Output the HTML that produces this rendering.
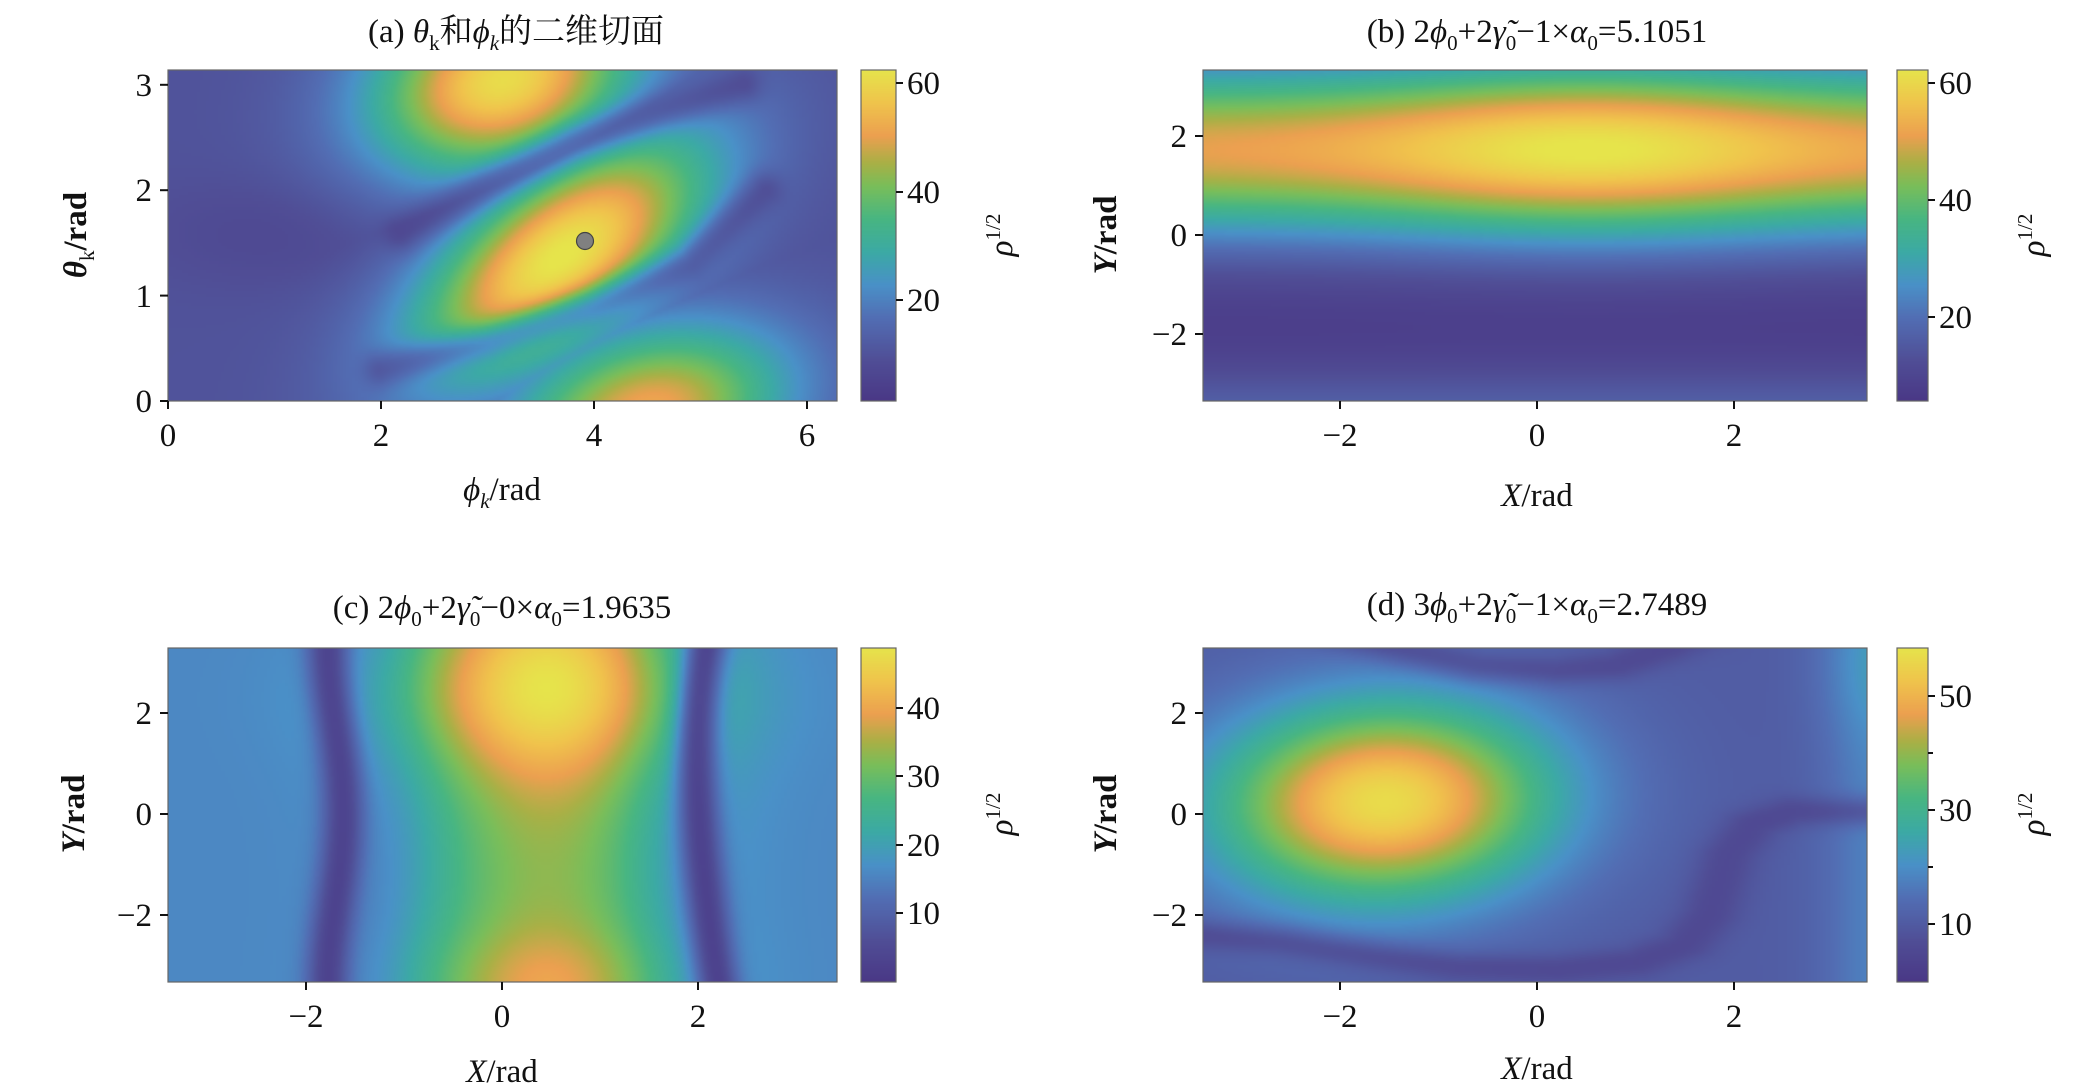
<!DOCTYPE html>
<html><head><meta charset="utf-8">
<style>
html,body{margin:0;padding:0;background:#fff;}
#wrap{position:relative;width:2079px;height:1089px;overflow:hidden;}
canvas{position:absolute;}
svg{position:absolute;left:0;top:0;}
text{font-family:"Liberation Serif","Noto Serif CJK SC","Noto Sans CJK SC",serif;fill:#111;}
</style></head><body>
<div id="wrap">
<canvas id="ca" width="220" height="110" style="left:168px;top:70px;width:669px;height:331px"></canvas>
<canvas id="cb" width="220" height="110" style="left:1203px;top:70px;width:664px;height:331px"></canvas>
<canvas id="cc" width="220" height="110" style="left:168px;top:648px;width:669px;height:334px"></canvas>
<canvas id="cd" width="220" height="110" style="left:1203px;top:648px;width:664px;height:334px"></canvas>
<canvas id="ka" width="1" height="200" style="left:861px;top:70px;width:35px;height:331px"></canvas>
<canvas id="kb" width="1" height="200" style="left:1897px;top:70px;width:31px;height:331px"></canvas>
<canvas id="kc" width="1" height="200" style="left:861px;top:648px;width:35px;height:334px"></canvas>
<canvas id="kd" width="1" height="200" style="left:1897px;top:648px;width:31px;height:334px"></canvas>
<svg width="2079" height="1089" xmlns="http://www.w3.org/2000/svg" font-size="33">
<g fill="none" stroke="#666" stroke-width="1.2">
<rect x="168" y="70" width="669" height="331"/><rect x="1203" y="70" width="664" height="331"/>
<rect x="168" y="648" width="669" height="334"/><rect x="1203" y="648" width="664" height="334"/>
<rect x="861" y="70" width="35" height="331"/><rect x="1897" y="70" width="31" height="331"/>
<rect x="861" y="648" width="35" height="334"/><rect x="1897" y="648" width="31" height="334"/>
</g>
<circle cx="585" cy="241" r="8.5" fill="#808080" stroke="#444" stroke-width="1.2"/>
<g stroke="#111" stroke-width="2">
<line x1="168" y1="401" x2="168" y2="409"/><line x1="381" y1="401" x2="381" y2="409"/><line x1="594" y1="401" x2="594" y2="409"/><line x1="807" y1="401" x2="807" y2="409"/>
<line x1="160" y1="401" x2="168" y2="401"/><line x1="160" y1="295.6" x2="168" y2="295.6"/><line x1="160" y1="190.2" x2="168" y2="190.2"/><line x1="160" y1="84.8" x2="168" y2="84.8"/>
<line x1="1340" y1="401" x2="1340" y2="409"/><line x1="1537" y1="401" x2="1537" y2="409"/><line x1="1734" y1="401" x2="1734" y2="409"/>
<line x1="1195" y1="136" x2="1203" y2="136"/><line x1="1195" y1="235" x2="1203" y2="235"/><line x1="1195" y1="334" x2="1203" y2="334"/>
<line x1="306" y1="982" x2="306" y2="990"/><line x1="502" y1="982" x2="502" y2="990"/><line x1="698" y1="982" x2="698" y2="990"/>
<line x1="160" y1="713" x2="168" y2="713"/><line x1="160" y1="814" x2="168" y2="814"/><line x1="160" y1="915" x2="168" y2="915"/>
<line x1="1340" y1="982" x2="1340" y2="990"/><line x1="1537" y1="982" x2="1537" y2="990"/><line x1="1734" y1="982" x2="1734" y2="990"/>
<line x1="1195" y1="713" x2="1203" y2="713"/><line x1="1195" y1="814" x2="1203" y2="814"/><line x1="1195" y1="915" x2="1203" y2="915"/>
<line x1="896" y1="83" x2="903" y2="83"/><line x1="896" y1="192" x2="903" y2="192"/><line x1="896" y1="300" x2="903" y2="300"/>
<line x1="1928" y1="83" x2="1935" y2="83"/><line x1="1928" y1="200" x2="1935" y2="200"/><line x1="1928" y1="317" x2="1935" y2="317"/>
<line x1="896" y1="708" x2="903" y2="708"/><line x1="896" y1="776" x2="903" y2="776"/><line x1="896" y1="845" x2="903" y2="845"/><line x1="896" y1="913" x2="903" y2="913"/>
<line x1="1928" y1="696" x2="1935" y2="696"/><line x1="1928" y1="753" x2="1933" y2="753"/><line x1="1928" y1="810" x2="1935" y2="810"/><line x1="1928" y1="867" x2="1933" y2="867"/><line x1="1928" y1="924" x2="1935" y2="924"/>
</g>
<g text-anchor="middle">
<text x="168" y="446">0</text><text x="381" y="446">2</text><text x="594" y="446">4</text><text x="807" y="446">6</text>
<text x="1340" y="446">−2</text><text x="1537" y="446">0</text><text x="1734" y="446">2</text>
<text x="306" y="1027">−2</text><text x="502" y="1027">0</text><text x="698" y="1027">2</text>
<text x="1340" y="1027">−2</text><text x="1537" y="1027">0</text><text x="1734" y="1027">2</text>
</g>
<g text-anchor="end">
<text x="152" y="412">0</text><text x="152" y="307">1</text><text x="152" y="201">2</text><text x="152" y="96">3</text>
<text x="1187" y="147">2</text><text x="1187" y="246">0</text><text x="1187" y="345">−2</text>
<text x="152" y="724">2</text><text x="152" y="825">0</text><text x="152" y="926">−2</text>
<text x="1187" y="724">2</text><text x="1187" y="825">0</text><text x="1187" y="926">−2</text>
</g>
<g>
<text x="907" y="94">60</text><text x="907" y="203">40</text><text x="907" y="311">20</text>
<text x="1939" y="94">60</text><text x="1939" y="211">40</text><text x="1939" y="328">20</text>
<text x="907" y="719">40</text><text x="907" y="787">30</text><text x="907" y="856">20</text><text x="907" y="924">10</text>
<text x="1939" y="707">50</text><text x="1939" y="821">30</text><text x="1939" y="935">10</text>
</g>
<g text-anchor="middle">
<text x="516" y="42">(a) <tspan font-style="italic">θ</tspan><tspan font-size="21" dy="8">k</tspan><tspan dy="-8">和</tspan><tspan font-style="italic">ϕ</tspan><tspan font-size="21" font-style="italic" dy="8">k</tspan><tspan dy="-8">的二维切面</tspan></text>
<text x="1537" y="42">(b) 2<tspan font-style="italic">ϕ</tspan><tspan font-size="21" dy="8">0</tspan><tspan dy="-8">+2</tspan><tspan font-style="italic">γ̃</tspan><tspan font-size="21" dy="8">0</tspan><tspan dy="-8">−1×</tspan><tspan font-style="italic">α</tspan><tspan font-size="21" dy="8">0</tspan><tspan dy="-8">=5.1051</tspan></text>
<text x="502" y="618">(c) 2<tspan font-style="italic">ϕ</tspan><tspan font-size="21" dy="8">0</tspan><tspan dy="-8">+2</tspan><tspan font-style="italic">γ̃</tspan><tspan font-size="21" dy="8">0</tspan><tspan dy="-8">−0×</tspan><tspan font-style="italic">α</tspan><tspan font-size="21" dy="8">0</tspan><tspan dy="-8">=1.9635</tspan></text>
<text x="1537" y="615">(d) 3<tspan font-style="italic">ϕ</tspan><tspan font-size="21" dy="8">0</tspan><tspan dy="-8">+2</tspan><tspan font-style="italic">γ̃</tspan><tspan font-size="21" dy="8">0</tspan><tspan dy="-8">−1×</tspan><tspan font-style="italic">α</tspan><tspan font-size="21" dy="8">0</tspan><tspan dy="-8">=2.7489</tspan></text>
<text x="502" y="500"><tspan font-style="italic">ϕ</tspan><tspan font-size="21" font-style="italic" dy="8">k</tspan><tspan dy="-8">/rad</tspan></text>
<text x="1537" y="506"><tspan font-style="italic">X</tspan>/rad</text>
<text x="502" y="1082"><tspan font-style="italic">X</tspan>/rad</text>
<text x="1537" y="1079"><tspan font-style="italic">X</tspan>/rad</text>
</g>
<g text-anchor="middle" font-weight="bold">
<text transform="translate(86,235) rotate(-90)"><tspan font-style="italic">θ</tspan><tspan font-size="21" dy="8" font-weight="normal">k</tspan><tspan dy="-8">/rad</tspan></text>
<text transform="translate(1116,235) rotate(-90)"><tspan font-style="italic">Y</tspan>/rad</text>
<text transform="translate(84,814) rotate(-90)"><tspan font-style="italic">Y</tspan>/rad</text>
<text transform="translate(1116,814) rotate(-90)"><tspan font-style="italic">Y</tspan>/rad</text>
</g>
<g text-anchor="middle">
<text transform="translate(1012,235) rotate(-90)"><tspan font-style="italic">ρ</tspan><tspan font-size="21" dy="-12">1/2</tspan></text>
<text transform="translate(2044,235) rotate(-90)"><tspan font-style="italic">ρ</tspan><tspan font-size="21" dy="-12">1/2</tspan></text>
<text transform="translate(1012,814) rotate(-90)"><tspan font-style="italic">ρ</tspan><tspan font-size="21" dy="-12">1/2</tspan></text>
<text transform="translate(2044,814) rotate(-90)"><tspan font-style="italic">ρ</tspan><tspan font-size="21" dy="-12">1/2</tspan></text>
</g>
</svg>
</div>
<script>
var S=[[0,74,56,134],[0.12,80,78,150],[0.25,82,110,180],[0.35,74,145,200],[0.45,60,170,165],[0.55,72,182,130],[0.65,122,190,90],[0.72,170,176,70],[0.8,236,160,80],[0.9,240,196,76],[1,230,228,75]];
function cm(t){t=Math.max(0,Math.min(1,t));for(var i=1;i<S.length;i++){if(t<=S[i][0]){var a=S[i-1],b=S[i],f=(t-a[0])/(b[0]-a[0]);return [a[1]+f*(b[1]-a[1]),a[2]+f*(b[2]-a[2]),a[3]+f*(b[3]-a[3])];}}return S[S.length-1].slice(1);}
function g(x,y,cx,cy,sx,sy,ang){var c=Math.cos(ang),s=Math.sin(ang),dx=x-cx,dy=y-cy,u=dx*c+dy*s,v=-dx*s+dy*c;return Math.exp(-0.5*(u*u/(sx*sx)+v*v/(sy*sy)));}
function segd(px,py,pts){var m=1e9;for(var i=0;i<pts.length-1;i++){var ax=pts[i][0],ay=pts[i][1],bx=pts[i+1][0],by=pts[i+1][1],dx=bx-ax,dy=by-ay,t=((px-ax)*dx+(py-ay)*dy)/(dx*dx+dy*dy);t=Math.max(0,Math.min(1,t));var ex=ax+t*dx-px,ey=ay+t*dy-py,d=Math.sqrt(ex*ex+ey*ey);if(d<m)m=d;}return m;}
function draw(id,x0,x1,y0,y1,vmin,vmax,f){var c=document.getElementById(id),ctx=c.getContext('2d'),W=c.width,H=c.height,im=ctx.createImageData(W,H);for(var j=0;j<H;j++){var y=y1-(j+0.5)/H*(y1-y0);for(var i=0;i<W;i++){var x=x0+(i+0.5)/W*(x1-x0);var col=cm((f(x,y)-vmin)/(vmax-vmin));var k=(j*W+i)*4;im.data[k]=col[0];im.data[k+1]=col[1];im.data[k+2]=col[2];im.data[k+3]=255;}}ctx.putImageData(im,0,0);}
function bar(id){var c=document.getElementById(id),ctx=c.getContext('2d'),H=c.height;for(var j=0;j<H;j++){var col=cm(1-(j+0.5)/H);ctx.fillStyle='rgb('+(col[0]|0)+','+(col[1]|0)+','+(col[2]|0)+')';ctx.fillRect(0,j,1,1);}}
['ka','kb','kc','kd'].forEach(bar);
var ang=Math.atan2(1.7,2.3);
var za=[[2.2,1.6],[3.0,2.05],[3.8,2.45],[4.6,2.75],[5.4,3.0]];
var zb=[[2.0,0.3],[3.0,0.55],[4.0,0.9],[4.9,1.3],[5.6,2.0]];
draw('ca',0,6.283,0,3.1416,1.5,62.5,function(x,y){
 var m=Math.max(53*g(x,y,3.7,1.38,1.15,0.55,ang),51*g(x,y,3.15,3.05,0.9,0.6,ang*0.5),42*g(x,y,4.5,-0.1,0.95,0.55,0.25));
 var v=10+m;
 v*=1-0.45*Math.exp(-Math.pow(segd(x,y,za)/0.18,2));
 v*=1-0.45*Math.exp(-Math.pow(segd(x,y,zb)/0.18,2));
 v-=3*Math.exp(-Math.pow((y-1.6)/0.5,2))*Math.exp(-Math.pow((x-1)/1.2,2));
 return v;});
draw('cb',-3.39,3.35,-3.35,3.33,5.7,62.5,function(x,y){
 var t=Math.exp(-0.5*Math.pow((y-1.72)/1.3,2))*(0.78+0.22*Math.exp(-0.5*Math.pow((x-0.5)/1.5,2)));
 return 6+57*t+12*Math.exp(-Math.pow((y+3.8)/1.2,2));});
draw('cc',-3.43,3.43,-3.34,3.3,0.2,49,function(x,y){
 var A=33+16*Math.exp(-0.5*Math.pow((y-2.5)/1.3,2))+7*Math.exp(-0.5*Math.pow((y+3.4)/0.8,2));
 var w=0.95+0.1*Math.exp(-0.5*Math.pow((y-2.2)/1.2,2));
 var v=16+(A-16)*Math.exp(-0.5*Math.pow((x-0.45)/w,2));
 var xl=-1.72+0.08*Math.cos(y*0.9),xr=2.02+0.06*Math.sin(-y*0.5)+0.012*y*y;
 v*=1-0.75*Math.exp(-Math.pow((x-xl)/0.22,2));v*=1-0.75*Math.exp(-Math.pow((x-xr)/0.22,2));
 v-=3*Math.exp(-Math.pow((x-xl-0.5)/0.5,2))+3*Math.exp(-Math.pow((x-xr+0.3)/0.5,2));
 return v;});
var tpc=[[-2,3.6],[-1.3,3.25],[-0.6,2.95],[0.2,2.85],[0.8,2.95],[1.3,3.3],[1.6,3.6]];
var btc=[[-3.5,-2.4],[-2.6,-2.55],[-1.6,-2.85],[-0.8,-3.05],[0.2,-3.1],[1.0,-2.95],[1.5,-2.6],[1.75,-2.0],[1.95,-0.8],[2.2,-0.2],[2.6,0.05],[3.5,0.05]];
draw('cd',-3.39,3.35,-3.34,3.3,0.8,58.5,function(x,y){
 var v=11+46*g(x,y,-1.55,0.25,1.2,1.4,-0.15);
 v+=13*Math.exp(-Math.pow((x-3.5)/0.6,2))*(0.6+0.4*Math.exp(-Math.pow((y-3)/1.5,2)));
 var d1=segd(x,y,tpc),d2=segd(x,y,btc);
 v*=1-0.45*Math.exp(-Math.pow(d1/0.3,2));v*=1-0.45*Math.exp(-Math.pow(d2/0.3,2));
 return v;});
</script>
</body></html>
